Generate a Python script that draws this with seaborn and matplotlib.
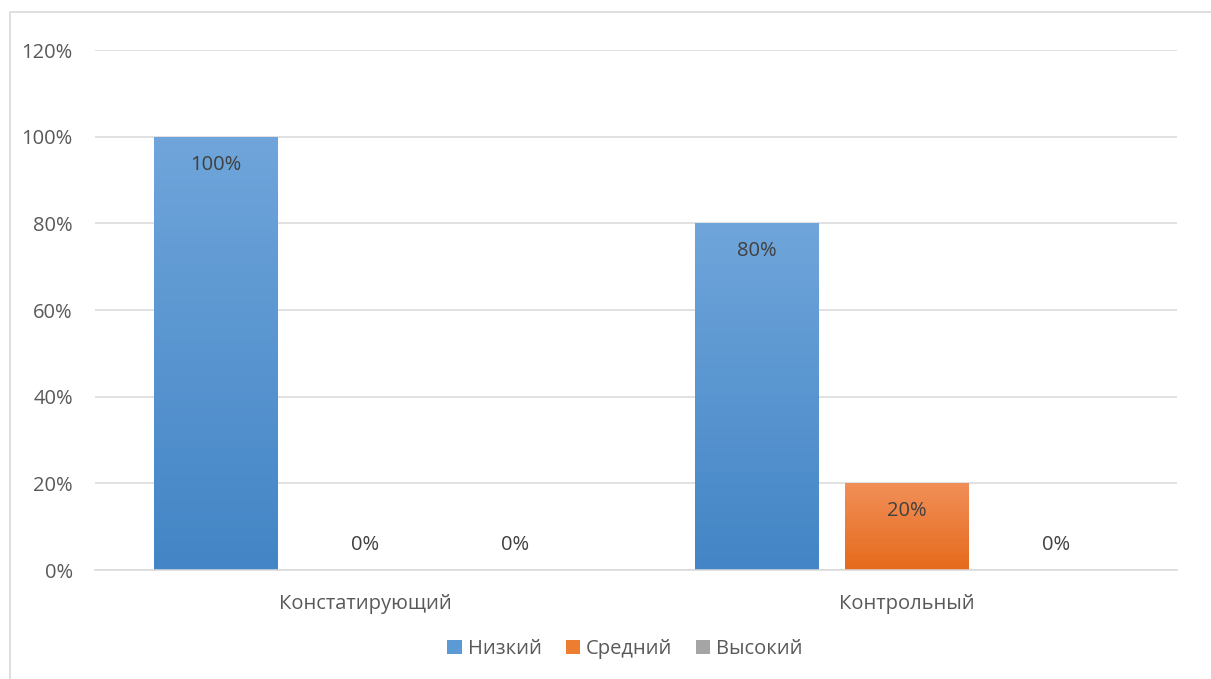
import matplotlib
matplotlib.use("Agg")
import matplotlib.pyplot as plt
import seaborn as sns
import pandas as pd
import numpy as np
from matplotlib.patches import Rectangle
from matplotlib.colors import LinearSegmentedColormap

categories = ["Констатирующий", "Контрольный"]
levels = ["Низкий", "Средний", "Высокий"]
low_vals = [100, 80]
mid_vals = [0, 20]
high_vals = [0, 0]
ytick_vals = [0, 20, 40, 60, 80, 100, 120]
ytick_labels = ["0%", "20%", "40%", "60%", "80%", "100%", "120%"]

colors = {"Низкий": "#5B9BD5", "Средний": "#ED7D31", "Высокий": "#A5A5A5"}
grad = {"Низкий": ("#6FA5DA", "#4385C6"),
        "Средний": ("#F18F58", "#E66A1C"),
        "Высокий": ("#B5B5B5", "#979797")}

rows = []
for i, c in enumerate(categories):
    rows.append((c, "Низкий", low_vals[i]))
    rows.append((c, "Средний", mid_vals[i]))
    rows.append((c, "Высокий", high_vals[i]))
df = pd.DataFrame(rows, columns=["cat", "level", "val"])

sns.set_theme(style="white")
plt.rcParams["font.family"] = ["Open Sans", "DejaVu Sans"]
txt = "#404040"
FS = 14.5

fig = plt.figure(figsize=(12.11, 6.79), dpi=100)
ax = fig.add_axes([95 / 1211, 1 - 570 / 679, 1082 / 1211, 520 / 679])

sns.barplot(data=df, x="cat", y="val", hue="level", hue_order=levels,
            palette=colors, width=0.832, gap=0.18, ax=ax, legend=True,
            saturation=1, edgecolor="none")

ax.set_ylim(0, 120)
ax.set_xlim(-0.5, 1.5)
ax.set_yticks(ytick_vals)
ax.set_yticklabels(ytick_labels)
ax.yaxis.grid(True, color="#D9D9D9", linewidth=1.1)
ax.set_axisbelow(True)
for s in ["top", "right", "left"]:
    ax.spines[s].set_visible(False)
ax.spines["bottom"].set_color("#D9D9D9")
ax.spines["bottom"].set_linewidth(1.1)
ax.tick_params(axis="y", length=0, pad=16, labelsize=FS, labelcolor="#595959")
ax.tick_params(axis="x", length=0, pad=17, labelsize=FS, labelcolor="#595959")
ax.set_xlabel("")
ax.set_ylabel("")

# gradients and labels
for cont, lev in zip(ax.containers, levels):
    c0, c1 = grad[lev]
    cmap = LinearSegmentedColormap.from_list("g", [c1, c0])
    for bar in cont:
        h = bar.get_height()
        x0 = bar.get_x()
        w = bar.get_width()
        if h > 0:
            im = ax.imshow(np.linspace(0, 1, 100).reshape(-1, 1), cmap=cmap,
                           origin="lower", extent=[x0, x0 + w, 0, h],
                           aspect="auto", zorder=bar.get_zorder() + 0.1)
            im.set_clip_path(bar)
            ax.text(x0 + w / 2, h - 6.5, f"{h:.0f}%", ha="center", va="center",
                    fontsize=FS, color=txt, zorder=5)
        else:
            ax.text(x0 + w / 2, 5.8, f"{h:.0f}%", ha="center", va="center",
                    fontsize=FS, color=txt, zorder=5)
ax.set_xlim(-0.5, 1.5)
ax.set_ylim(0, 120)
ax.set_aspect("auto")

leg = ax.legend(loc="center", bbox_to_anchor=(0.49, -0.152), ncol=3, frameon=False,
                fontsize=FS, handlelength=0.7, handleheight=0.7,
                handletextpad=0.3, columnspacing=1.2)
for t in leg.get_texts():
    t.set_color("#595959")

fig.patches.append(Rectangle((10 / 1211, -0.1), 1.2, 1 - 12 / 679 + 0.1,
                             transform=fig.transFigure, fill=False,
                             edgecolor="#D9D9D9", linewidth=1.2))

fig.savefig("out.png", dpi=100)
